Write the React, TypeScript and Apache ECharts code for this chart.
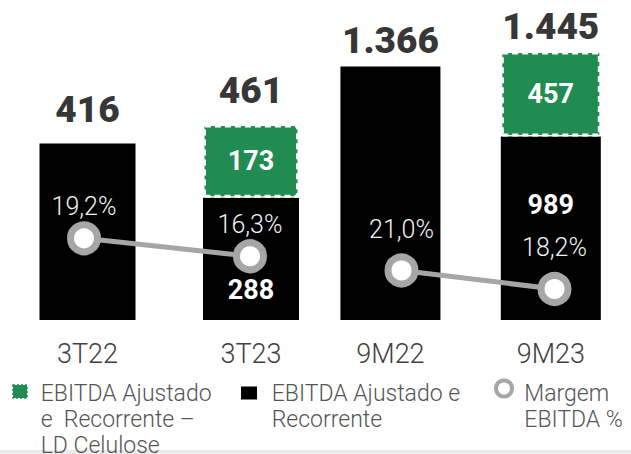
import React, { useEffect, useRef } from "react";
import * as echarts from "echarts";

const categories3T = ["3T22", "3T23"];
const categories9M = ["9M22", "9M23"];
const recorrente3T = [416, 288];
const ldCelulose3T: (number | null)[] = [null, 173];
const total3T = [416, 461];
const recorrente9M = [1366, 989];
const ldCelulose9M: (number | null)[] = [null, 457];
const total9M = [1366, 1445];
const margem3T = [19.2, 16.3];
const margem9M = [21.0, 18.2];

const legendNames = [
  "EBITDA Ajustado\ne  Recorrente –\nLD Celulose",
  "EBITDA Ajustado e\nRecorrente",
  "Margem\nEBITDA %",
];

const GREEN = "#218c52";
const GRAY = "#a6a6a6";
const FONT = "Roboto";

const fmtTotal = (v: number) =>
  v >= 1000 ? Math.floor(v / 1000) + "." + String(v % 1000).padStart(3, "0") : String(v);
const fmtPct = (v: number) => v.toFixed(1).replace(".", ",") + "%";

export default function App() {
  const ref = useRef<HTMLDivElement>(null);
  useEffect(() => {
    if (!ref.current) return;
    const chart = echarts.init(ref.current, null, { renderer: "svg" });
    const gridTop = 23;
    const gridHeight = 297;
    const hiddenY = (gridIndex: number, min: number, max: number) => ({
      type: "value",
      gridIndex,
      min,
      max,
      show: false,
      splitLine: { show: false },
    });
    const catAxis = (gridIndex: number, data: string[], show: boolean) => ({
      type: "category",
      gridIndex,
      data,
      show,
      axisLine: { show: false },
      axisTick: { show: false },
      axisLabel: {
        show,
        color: "#404040",
        fontFamily: FONT,
        fontWeight: 300,
        fontSize: 27,
        margin: 20,
      },
    });
    const blackSeries = (idx: number, data: number[], ld: (number | null)[], pos: string, dist: number) => ({
      type: "bar",
      xAxisIndex: idx,
      yAxisIndex: idx,
      stack: "s" + idx,
      data,
      barWidth: idx === 0 ? 96 : 100,
      barGap: "-100%",
      itemStyle: { color: "#000000" },
      label: {
        show: true,
        position: pos,
        distance: dist,
        color: "#ffffff",
        fontFamily: FONT,
        fontWeight: "bold",
        fontSize: 27,
        lineHeight: 28,
        formatter: (p: any) => (ld[p.dataIndex] != null ? String(p.value) : ""),
      },
    });
    const greenSeries = (idx: number, data: (number | null)[]) => ({
      type: "bar",
      xAxisIndex: idx,
      yAxisIndex: idx,
      stack: "s" + idx,
      data,
      barWidth: idx === 0 ? 96 : 100,
      barGap: "-100%",
      itemStyle: {
        color: GREEN,
        borderColor: "#ffffff",
        borderWidth: 3,
        borderType: [6, 4],
      },
      label: {
        show: true,
        position: "inside",
        color: "#ffffff",
        fontFamily: FONT,
        fontWeight: "bold",
        fontSize: 27,
      },
    });
    const totalSeries = (idx: number, data: number[], dist: number) => ({
      type: "scatter",
      xAxisIndex: idx,
      yAxisIndex: idx,
      data,
      symbol: "circle",
      symbolSize: 1,
      itemStyle: { color: "rgba(0,0,0,0)" },
      z: 6,
      label: {
        show: true,
        position: "top",
        distance: dist,
        color: "#000000",
        fontFamily: FONT,
        fontWeight: 900,
        fontSize: 37,
        lineHeight: 38,
        formatter: (p: any) => fmtTotal(p.value),
      },
    });
    const lineSeries = (idx: number, data: number[], dist: number) => ({
      type: "line",
      xAxisIndex: idx,
      yAxisIndex: idx,
      data,
      z: 5,
      symbol: "circle",
      symbolSize: 27,
      lineStyle: { color: GRAY, width: 5 },
      itemStyle: { color: "#ffffff", borderColor: GRAY, borderWidth: 7 },
      label: {
        show: true,
        position: "top",
        distance: dist,
        color: "#f2f2f2",
        fontFamily: FONT,
        fontWeight: 300,
        fontSize: 25,
        lineHeight: 26,
        formatter: (p: any) => fmtPct(p.value),
      },
    });
    const legendText = (x: number, text: string) => ({
      type: "text",
      x,
      y: 380,
      z: 10,
      style: {
        text,
        fill: "#555555",
        font: "300 23px Roboto",
        lineHeight: 26,
        verticalAlign: "top",
        align: "left",
      },
    });

    chart.setOption({
      animation: false,
      backgroundColor: "#ffffff",
      grid: [
        { left: 5.75, width: 327, top: gridTop, height: gridHeight },
        { left: 310.25, width: 341, top: gridTop, height: gridHeight },
        { left: 1, width: 332, top: gridTop, height: gridHeight },
        { left: 325, width: 316, top: gridTop, height: gridHeight },
      ],
      xAxis: [
        catAxis(0, categories3T, true),
        catAxis(1, categories9M, true),
        catAxis(2, categories3T, false),
        catAxis(3, categories9M, false),
      ],
      yAxis: [hiddenY(0, 0, 700), hiddenY(1, 0, 1600), hiddenY(2, 6, 54), hiddenY(3, 13.5, 58.5)],
      series: [
        blackSeries(0, recorrente3T, ldCelulose3T, "insideBottom", 16),
        greenSeries(0, ldCelulose3T),
        blackSeries(1, recorrente9M, ldCelulose9M, "insideTop", 55),
        greenSeries(1, ldCelulose9M),
        totalSeries(0, total3T, 14),
        totalSeries(1, total9M, 6),
        lineSeries(2, margem3T, 2),
        lineSeries(3, margem9M, 11),
      ],
      graphic: [
        {
          type: "rect",
          z: 1,
          shape: { x: 0, y: 450, width: 631, height: 4 },
          style: { fill: "#ececec" },
        },
        {
          type: "rect",
          shape: { x: 13, y: 385, width: 14, height: 13 },
          style: { fill: GREEN, stroke: GREEN, lineWidth: 1.5, lineDash: [2, 2] },
        },
        legendText(40.7, legendNames[0]),
        {
          type: "rect",
          shape: { x: 241, y: 386.5, width: 16, height: 13 },
          style: { fill: "#000000" },
        },
        legendText(271.7, legendNames[1]),
        {
          type: "circle",
          shape: { cx: 504, cy: 388.5, r: 8 },
          style: { fill: "#ffffff", stroke: GRAY, lineWidth: 4 },
        },
        legendText(524.3, legendNames[2]),
      ],
    });
    return () => chart.dispose();
  }, []);
  return (
    <div
      ref={ref}
      style={{ position: "absolute", left: 0, top: 0, width: 631, height: 454 }}
    />
  );
}
